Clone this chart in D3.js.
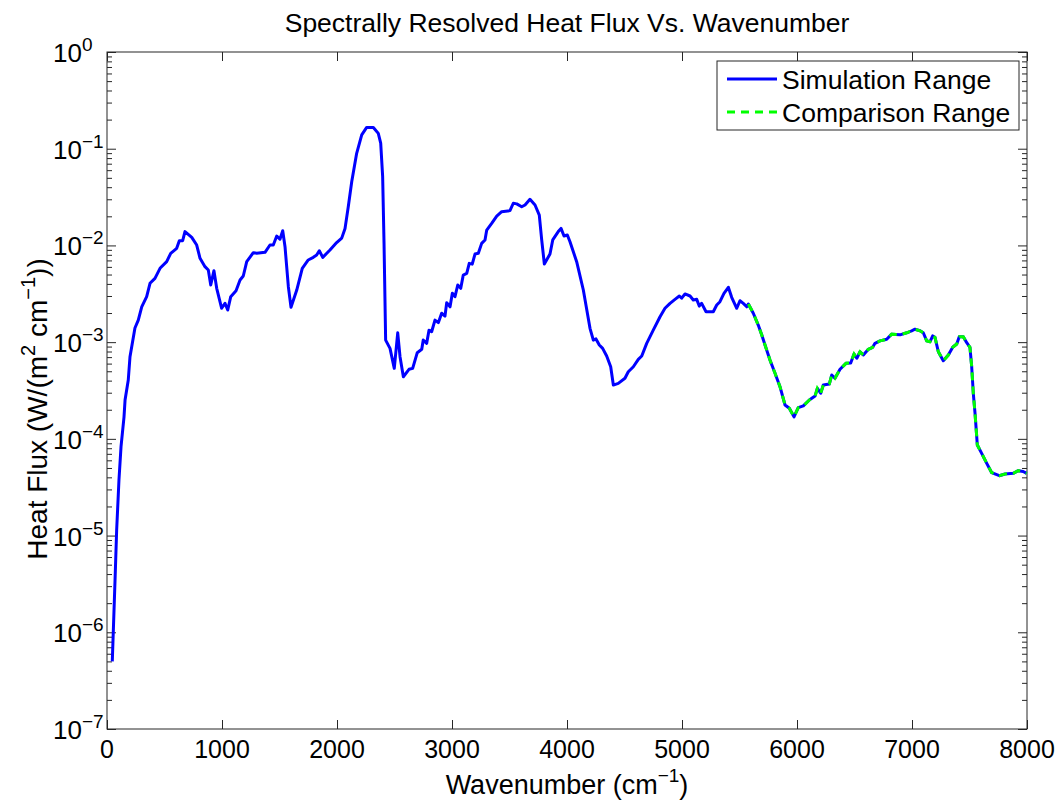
<!DOCTYPE html>
<html>
<head>
<meta charset="utf-8">
<script src="https://cdn.jsdelivr.net/npm/d3@7"></script>
<style>
    body { margin: 0; background: #fff; }
    text { font-family: "Liberation Sans", Arial, Helvetica, sans-serif; fill: #000; }
</style>
</head>
<body>
<div id="chart"></div>
<script>
// wavenumber (cm^-1) and spectral heat flux (W/(m^2 cm^-1))
const wavenumber = [
    46, 70, 84, 104, 122, 148, 157, 185, 200, 243, 272, 302, 345, 374, 417, 461, 519, 554, 606, 629,
    658, 678, 737, 780, 809, 852, 881, 902, 930, 954, 997, 1026, 1050, 1076, 1122, 1157, 1185, 1215, 1272, 1302,
    1374, 1417, 1446, 1476, 1504, 1528, 1548, 1577, 1600, 1650, 1698, 1750, 1794, 1823, 1846, 1876, 1939, 1997, 2041, 2070,
    2098, 2128, 2171, 2215, 2258, 2316, 2359, 2380, 2397, 2409, 2423, 2461, 2498, 2528, 2548, 2577, 2626, 2658, 2698, 2737,
    2750, 2780, 2800, 2823, 2852, 2881, 2910, 2939, 2954, 2983, 3003, 3026, 3050, 3076, 3098, 3128, 3150, 3176, 3200, 3229,
    3258, 3287, 3302, 3345, 3389, 3432, 3504, 3533, 3563, 3606, 3635, 3678, 3722, 3759, 3780, 3803, 3852, 3876, 3924, 3948,
    3974, 4003, 4026, 4084, 4142, 4200, 4229, 4252, 4281, 4310, 4345, 4380, 4403, 4446, 4504, 4533, 4577, 4620, 4650, 4693,
    4750, 4809, 4852, 4896, 4939, 4977, 4997, 5026, 5070, 5098, 5128, 5150, 5171, 5209, 5243, 5272, 5302, 5330, 5365, 5403,
    5432, 5476, 5504, 5533, 5563, 5577, 5620, 5663, 5693, 5722, 5765, 5809, 5852, 5896, 5933, 5974, 6011, 6055, 6107, 6157,
    6177, 6206, 6229, 6281, 6302, 6330, 6374, 6426, 6467, 6496, 6520, 6548, 6577, 6620, 6658, 6678, 6722, 6780, 6823, 6896,
    6954, 6997, 7026, 7070, 7098, 7128, 7157, 7180, 7200, 7229, 7272, 7316, 7354, 7389, 7411, 7446, 7476, 7504, 7519, 7533,
    7548, 7568, 7606, 7650, 7693, 7759, 7809, 7881, 7924, 7967, 7997
];

const heatFlux = [
    5.0e-7, 3.5e-6, 1.14e-5, 3.75e-5, 8.3e-5, 1.69e-4, 2.52e-4, 4.06e-4, 7.07e-4, 1.40e-3, 1.69e-3, 2.32e-3, 2.95e-3, 4.06e-3, 4.57e-3, 5.80e-3, 6.79e-3, 8.29e-3, 9.33e-3, 1.12e-2,
    1.12e-2, 1.39e-2, 1.21e-2, 1.01e-2, 7.36e-3, 6.03e-3, 5.57e-3, 3.90e-3, 5.48e-3, 3.60e-3, 2.24e-3, 2.52e-3, 2.15e-3, 2.95e-3, 3.40e-3, 4.39e-3, 4.83e-3, 6.79e-3, 8.41e-3, 8.30e-3,
    8.49e-3, 1.01e-2, 1.01e-2, 1.25e-2, 1.16e-2, 1.42e-2, 9.70e-3, 3.74e-3, 2.29e-3, 3.46e-3, 5.80e-3, 7.07e-3, 7.53e-3, 7.96e-3, 8.82e-3, 7.53e-3, 8.97e-3, 1.07e-2, 1.19e-2, 1.50e-2,
    2.51e-2, 4.56e-2, 8.97e-2, 0.139, 0.166, 0.166, 0.144, 0.114, 5.14e-2, 1.05e-2, 1.05e-3, 8.63e-4, 5.36e-4, 1.25e-3, 7.07e-4, 4.39e-4, 5.24e-4, 5.36e-4, 7.78e-4, 8.43e-4,
    1.05e-3, 9.72e-4, 1.33e-3, 1.28e-3, 1.69e-3, 1.59e-3, 1.99e-3, 1.86e-3, 2.56e-3, 2.32e-3, 3.20e-3, 2.95e-3, 3.90e-3, 3.60e-3, 4.94e-3, 5.15e-3, 6.53e-3, 6.40e-3, 8.15e-3, 8.30e-3,
    1.05e-2, 1.14e-2, 1.44e-2, 1.69e-2, 2.01e-2, 2.23e-2, 2.29e-2, 2.73e-2, 2.69e-2, 2.51e-2, 2.62e-2, 3.00e-2, 2.62e-2, 2.06e-2, 1.14e-2, 6.43e-3, 8.15e-3, 1.14e-2, 1.39e-2, 1.50e-2,
    1.25e-2, 1.28e-2, 1.09e-2, 6.79e-3, 3.46e-3, 1.39e-3, 1.05e-3, 1.08e-3, 9.34e-4, 8.63e-4, 7.19e-4, 5.57e-4, 3.60e-4, 3.75e-4, 4.23e-4, 4.94e-4, 5.57e-4, 6.64e-4, 7.19e-4, 9.72e-4,
    1.33e-3, 1.83e-3, 2.24e-3, 2.52e-3, 2.77e-3, 3.00e-3, 2.85e-3, 3.15e-3, 3.00e-3, 2.73e-3, 2.77e-3, 2.36e-3, 2.52e-3, 2.06e-3, 2.06e-3, 2.06e-3, 2.42e-3, 2.62e-3, 3.20e-3, 3.69e-3,
    2.91e-3, 2.24e-3, 2.68e-3, 2.52e-3, 2.32e-3, 2.48e-3, 1.99e-3, 1.50e-3, 1.19e-3, 9.34e-4, 6.53e-4, 4.76e-4, 3.46e-4, 2.24e-4, 2.07e-4, 1.69e-4, 2.10e-4, 2.19e-4, 2.52e-4, 2.77e-4,
    3.33e-4, 2.96e-4, 3.60e-4, 3.69e-4, 4.57e-4, 4.23e-4, 5.24e-4, 6.04e-4, 6.10e-4, 7.54e-4, 6.81e-4, 7.96e-4, 7.36e-4, 8.43e-4, 8.85e-4, 9.72e-4, 1.03e-3, 1.07e-3, 1.21e-3, 1.19e-3,
    1.25e-3, 1.31e-3, 1.36e-3, 1.31e-3, 1.25e-3, 1.03e-3, 1.01e-3, 1.16e-3, 1.12e-3, 7.96e-4, 6.43e-4, 7.36e-4, 8.85e-4, 9.57e-4, 1.14e-3, 1.14e-3, 9.86e-4, 8.85e-4, 5.57e-4, 2.96e-4,
    1.84e-4, 8.63e-5, 7.08e-5, 5.58e-5, 4.47e-5, 4.16e-5, 4.33e-5, 4.40e-5, 4.69e-5, 4.60e-5, 4.40e-5
];

// comparison range begins here (cm^-1)
const comparisonStart = 5577;

const xTicks = [0, 1000, 2000, 3000, 4000, 5000, 6000, 7000, 8000];
const yExponents = [0, -1, -2, -3, -4, -5, -6, -7];
const seriesNames = ["Simulation Range", "Comparison Range"];
const seriesColors = ["#0000ff", "#00ff00"];

class SpectrumChart {

    constructor(parentElement) {
        this.parentElement = parentElement;
        this.initVis();
    }

    initVis() {
        let vis = this;
        vis.width = 1063;
        vis.height = 803;
        vis.margin = { left: 107, right: 36, top: 52, bottom: 74 };
        vis.plotW = vis.width - vis.margin.left - vis.margin.right;
        vis.plotH = vis.height - vis.margin.top - vis.margin.bottom;

        vis.svg = d3.select('#' + vis.parentElement).append("svg")
            .attr("width", vis.width)
            .attr("height", vis.height)

        vis.g = vis.svg.append("g")
            .attr("transform", "translate(" + vis.margin.left + "," + vis.margin.top + ")")

        vis.x = d3.scaleLinear()
            .domain([xTicks[0], xTicks[xTicks.length - 1]])
            .range([0, vis.plotW])

        vis.y = d3.scaleLog()
            .domain([Math.pow(10, d3.min(yExponents)), Math.pow(10, d3.max(yExponents))])
            .range([vis.plotH, 0])

        vis.drawAxes();
        vis.drawLines();
        vis.drawLegend();
        vis.drawLabels();
    }

    drawAxes() {
        let vis = this;
        let majors = yExponents.map(e => Math.pow(10, e));
        let minors = [];
        yExponents.slice(1).forEach(e => {
            d3.range(2, 10).forEach(m => minors.push(m * Math.pow(10, e)));
        });

        let style = (g) => {
            g.select(".domain").remove();
            g.selectAll("line").attr("stroke", "#262626").attr("stroke-width", 1);
        }

        // ticks on all four sides, pointing inward
        vis.g.append("g").attr("transform", "translate(0," + vis.plotH + ")")
            .call(d3.axisBottom(vis.x).tickValues(xTicks).tickSize(-9).tickFormat(""))
            .call(style)
        vis.g.append("g")
            .call(d3.axisTop(vis.x).tickValues(xTicks).tickSize(-9).tickFormat(""))
            .call(style)
        vis.g.append("g")
            .call(d3.axisLeft(vis.y).tickValues(majors).tickSize(-9).tickFormat(""))
            .call(style)
        vis.g.append("g")
            .call(d3.axisLeft(vis.y).tickValues(minors).tickSize(-5).tickFormat(""))
            .call(style)
        vis.g.append("g").attr("transform", "translate(" + vis.plotW + ",0)")
            .call(d3.axisRight(vis.y).tickValues(majors).tickSize(-9).tickFormat(""))
            .call(style)
        vis.g.append("g").attr("transform", "translate(" + vis.plotW + ",0)")
            .call(d3.axisRight(vis.y).tickValues(minors).tickSize(-5).tickFormat(""))
            .call(style)

        vis.g.append("rect")
            .attr("width", vis.plotW)
            .attr("height", vis.plotH)
            .attr("fill", "none")
            .attr("stroke", "#262626")
            .attr("stroke-width", 1)

        // x tick labels
        vis.g.selectAll(".x-label")
            .data(xTicks)
            .enter()
            .append("text")
            .attr("class", "x-label")
            .attr("x", d => vis.x(d))
            .attr("y", vis.plotH + 29)
            .attr("text-anchor", "middle")
            .style("font-size", "25px")
            .text(d => d)

        // y tick labels 10^n
        let yl = vis.g.selectAll(".y-label")
            .data(yExponents)
            .enter()
            .append("text")
            .attr("class", "y-label")
            .attr("x", -54)
            .attr("y", d => vis.y(Math.pow(10, d)) + 10)
            .style("font-size", "26px")
        yl.append("tspan").text("10")
        yl.append("tspan")
            .attr("dy", -11)
            .style("font-size", "19px")
            .text(d => d === 0 ? "0" : "\u2212" + (-d))
    }

    drawLines() {
        let vis = this;
        let points = wavenumber.map((w, i) => ({ w: w, f: heatFlux[i] }));
        let comparison = points.filter(d => d.w >= comparisonStart);

        let line = d3.line()
            .x(d => vis.x(d.w))
            .y(d => vis.y(d.f))

        vis.g.append("path")
            .datum(points)
            .attr("d", line)
            .attr("fill", "none")
            .attr("stroke", seriesColors[0])
            .attr("stroke-width", 3)
            .attr("stroke-linejoin", "round")

        vis.g.append("path")
            .datum(comparison)
            .attr("d", line)
            .attr("fill", "none")
            .attr("stroke", seriesColors[1])
            .attr("stroke-width", 3)
            .attr("stroke-dasharray", "8,6")
    }

    drawLegend() {
        let vis = this;
        let lg = vis.svg.append("g")
            .attr("transform", "translate(717,61)")

        lg.append("rect")
            .attr("width", 302)
            .attr("height", 69)
            .attr("fill", "#fff")
            .attr("stroke", "#262626")
            .attr("stroke-width", 1)

        let entries = lg.selectAll(".legend-entry")
            .data(seriesNames)
            .enter()
            .append("g")
            .attr("class", "legend-entry")
            .attr("transform", (d, i) => "translate(0," + (18 + i * 33) + ")")

        entries.append("line")
            .attr("x1", 10)
            .attr("x2", 60)
            .attr("stroke", (d, i) => seriesColors[i])
            .attr("stroke-width", 3)
            .attr("stroke-dasharray", (d, i) => i === 1 ? "8,6" : null)

        entries.append("text")
            .attr("x", 65)
            .attr("y", 9.5)
            .style("font-size", "26.5px")
            .text(d => d)
    }

    drawLabels() {
        let vis = this;
        let cx = vis.margin.left + vis.plotW / 2;

        vis.svg.append("text")
            .attr("x", cx)
            .attr("y", 32)
            .attr("text-anchor", "middle")
            .style("font-size", "26.5px")
            .text("Spectrally Resolved Heat Flux Vs. Wavenumber")

        let xl = vis.svg.append("text")
            .attr("x", cx)
            .attr("y", 794)
            .attr("text-anchor", "middle")
            .style("font-size", "27px")
        xl.append("tspan").text("Wavenumber (cm")
        xl.append("tspan").attr("dy", -12).style("font-size", "19px").text("\u22121")
        xl.append("tspan").attr("dy", 12).text(")")

        let yl = vis.svg.append("text")
            .attr("transform", "translate(47,409) rotate(-90)")
            .attr("text-anchor", "middle")
            .style("font-size", "28px")
        yl.append("tspan").text("Heat Flux (W/(m")
        yl.append("tspan").attr("dy", -12).style("font-size", "20px").text("2")
        yl.append("tspan").attr("dy", 12).text(" cm")
        yl.append("tspan").attr("dy", -12).style("font-size", "20px").text("\u22121")
        yl.append("tspan").attr("dy", 12).text("))")
    }
}

new SpectrumChart("chart");
</script>
</body>
</html>
